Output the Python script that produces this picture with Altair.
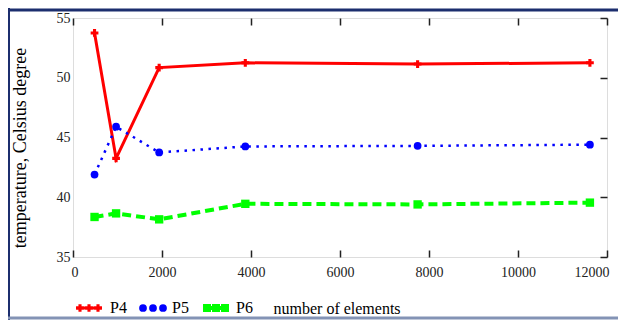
import altair as alt
import pandas as pd

# ---- data ----
elements = [484, 968, 1936, 3872, 7744, 11616]
p4 = [53.75, 43.25, 50.85, 51.25, 51.15, 51.25]
p5 = [41.9, 45.9, 43.75, 44.25, 44.3, 44.4]
p6 = [38.35, 38.65, 38.15, 39.45, 39.4, 39.55]
series_names = ["P4", "P5", "P6"]
x_ticks = [0, 2000, 4000, 6000, 8000, 10000, 12000]
y_ticks = [35, 40, 45, 50, 55]

W, H = 534, 239
FONT = "Liberation Serif"
RED, BLUE, GREEN = "#ff0000", "#0000ff", "#00ff00"

df = pd.DataFrame({
    "elements": elements * 3,
    "temp": p4 + p5 + p6,
    "series": [n for n in series_names for _ in elements],
})

xs = alt.Scale(domain=[0, 12000], nice=False, zero=False)
ys = alt.Scale(domain=[35, 55], nice=False, zero=False)

xaxis = alt.Axis(
    values=x_ticks, format="d", tickSize=0, labelPadding=8,
    labelFlush=True, labelFlushOffset=2,
    labelFont=FONT, labelFontSize=14, labelColor="#222",
    domain=False, grid=True, gridColor="#222", gridWidth=1.5,
    gridDash=[7, H - 14, 7],
    title="number of elements", titleFont=FONT, titleFontSize=16,
    titleFontWeight="normal", titleColor="#000",
    titleX=200, titleY=51, titleAlign="left", titleBaseline="middle",
)
yaxis = alt.Axis(
    values=y_ticks, tickSize=0, labelPadding=3,
    labelFont=FONT, labelFontSize=14, labelColor="#222",
    domain=False, grid=True, gridColor="#222", gridWidth=1.5,
    gridDash=[0, W - 7, 7, 0],
    title="temperature, Celsius degree", titleFont=FONT, titleFontSize=18,
    titleFontWeight="normal", titleColor="#000", titleAngle=270,
    titleX=-53, titleY=H / 2 + 10, titleAlign="center", titleBaseline="middle",
)

base = alt.Chart(df).encode(
    x=alt.X("elements:Q", scale=xs, axis=xaxis),
    y=alt.Y("temp:Q", scale=ys, axis=yaxis),
)

def sel(name):
    return base.transform_filter(alt.datum.series == name)

layers = [
    sel("P4").mark_line(color=RED, strokeWidth=3),
    sel("P4").mark_point(shape="cross", filled=True, size=60, color=RED, opacity=1),
    sel("P5").mark_line(color=BLUE, strokeWidth=2.5, strokeDash=[2.5, 5.5]),
    sel("P5").mark_circle(size=60, color=BLUE, opacity=1),
    sel("P6").mark_line(color=GREEN, strokeWidth=4, strokeDash=[9, 5]),
    sel("P6").mark_square(size=70, color=GREEN, opacity=1),
]

# ---- manual legend (decoration, pixel positions) ----
one = alt.Data(values=[{"a": 1}])
LY = 290

def leg_rule(x1, x2, color, width, dash=None):
    kw = dict(color=color, strokeWidth=width)
    if dash:
        kw["strokeDash"] = dash
    return alt.Chart(one).mark_rule(**kw).encode(
        x=alt.value(x1), x2=alt.value(x2), y=alt.value(LY))

def leg_pt(xp, mark, **kw):
    return getattr(alt.Chart(one), mark)(**kw).encode(x=alt.value(xp), y=alt.value(LY))

def leg_text(xp, txt):
    return alt.Chart(one).mark_text(
        text=txt, font=FONT, fontSize=16, align="left", baseline="middle", color="#000"
    ).encode(x=alt.value(xp), y=alt.value(LY))

legend = [
    leg_rule(3, 29, RED, 3),
    leg_pt(7, "mark_point", shape="cross", filled=True, size=60, color=RED, opacity=1),
    leg_pt(16, "mark_point", shape="cross", filled=True, size=60, color=RED, opacity=1),
    leg_pt(25, "mark_point", shape="cross", filled=True, size=60, color=RED, opacity=1),
    leg_text(37, "P4"),
    leg_pt(70, "mark_circle", size=60, color=BLUE, opacity=1),
    leg_pt(80, "mark_circle", size=60, color=BLUE, opacity=1),
    leg_pt(90, "mark_circle", size=60, color=BLUE, opacity=1),
    leg_text(99, "P5"),
    leg_rule(130, 156, GREEN, 4, [9, 2]),
    leg_pt(134, "mark_square", size=64, color=GREEN, opacity=1),
    leg_pt(143, "mark_square", size=64, color=GREEN, opacity=1),
    leg_pt(152, "mark_square", size=64, color=GREEN, opacity=1),
    leg_text(163, "P6"),
]

# ---- outer frame ----
frame = [
    alt.Chart(one).mark_rule(color="#1c2e6e", strokeWidth=3).encode(
        x=alt.value(-65), x2=alt.value(545), y=alt.value(-8)),
    alt.Chart(one).mark_rule(color="#1c2e6e", strokeWidth=2).encode(
        x=alt.value(-64), y=alt.value(-10), y2=alt.value(302)),
    alt.Chart(one).mark_rule(color="#8393b5", strokeWidth=3).encode(
        x=alt.value(-65), x2=alt.value(545), y=alt.value(300)),
]

chart = alt.layer(*layers, *legend, *frame).properties(
    width=W, height=H,
    autosize=alt.AutoSizeParams(type="none"),
    padding={"left": 65, "top": 10, "right": 11, "bottom": 63},
).configure_view(stroke="#222", strokeWidth=2).configure(background="white")

chart.save("out.html", embed_options={"renderer": "svg", "actions": False})
